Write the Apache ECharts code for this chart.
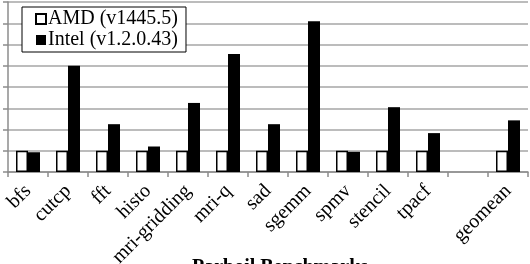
<!DOCTYPE html>
<html>
<head>
<meta charset="utf-8">
<script src="https://cdn.jsdelivr.net/npm/echarts@6/dist/echarts.min.js"></script>
<style>
  html, body { margin: 0; padding: 0; background: #fff; }
  #main { width: 530px; height: 264px; }
</style>
</head>
<body>
<div id="main"></div>
<script>
// benchmarks (blank slot before geomean, like the original)
var benchmarks = ['bfs', 'cutcp', 'fft', 'histo', 'mri-gridding', 'mri-q', 'sad', 'sgemm', 'spmv', 'stencil', 'tpacf', '', 'geomean'];
var amdValues = [1, 1, 1, 1, 1, 1, 1, 1, 1, 1, 1, null, 1];
var intelValues = [0.93, 5.0, 2.25, 1.2, 3.25, 5.55, 2.25, 7.1, 0.95, 3.05, 1.83, null, 2.43];
var yTicks = [0, 1, 2, 3, 4, 5, 6, 7, 8];

var chart = echarts.init(document.getElementById('main'), null, { renderer: 'canvas' });

var serif = '"Liberation Serif", "DejaVu Serif", serif';

var option = {
  animation: false,
  textStyle: { fontFamily: serif },
  grid: {
    left: 8,
    right: 2,
    top: 2,
    bottom: 92,
    containLabel: false,
    outerBoundsMode: 'none'
  },
  legend: {
    orient: 'vertical',
    left: 22,
    top: 7,
    padding: [2, 8, 2, 13],
    backgroundColor: '#fff',
    borderColor: '#000',
    borderWidth: 1,
    itemWidth: 10,
    itemHeight: 10,
    itemGap: 1,
    icon: 'rect',
    textStyle: { fontFamily: serif, fontSize: 20, lineHeight: 20, color: '#000', padding: [0, 0, 0, -3] },
    data: ['AMD (v1445.5)', 'Intel (v1.2.0.43)']
  },
  xAxis: {
    type: 'category',
    data: benchmarks,
    name: 'Parboil Benchmarks',
    nameLocation: 'middle',
    nameGap: 86,
    nameMoveOverlap: false,
    nameTextStyle: { fontFamily: serif, fontSize: 20, fontWeight: 'bold', color: '#000', padding: [0, 0, 0, 24] },
    axisLine: { lineStyle: { color: '#8c8c8c', width: 1.5 } },
    axisTick: { show: true, length: 5, lineStyle: { color: '#8c8c8c', width: 1.5 } },
    axisLabel: {
      rotate: 45,
      interval: 0,
      margin: 16,
      fontFamily: serif,
      fontSize: 20,
      color: '#000'
    }
  },
  yAxis: {
    type: 'value',
    min: 0,
    max: 8,
    interval: 1,
    axisLine: { show: true, lineStyle: { color: '#8c8c8c', width: 1.5 } },
    axisTick: { show: true, length: 5, lineStyle: { color: '#8c8c8c', width: 1.5 } },
    axisLabel: { show: false },
    splitLine: { lineStyle: { color: '#a6a6a6', width: 1.5 } }
  },
  series: [{
      name: 'AMD (v1445.5)',
      type: 'bar',
      data: amdValues,
      barWidth: 12,
      barGap: '0%',
      itemStyle: { color: '#fff', borderColor: '#000', borderWidth: 1.5 }
    },
    {
      name: 'Intel (v1.2.0.43)',
      type: 'bar',
      data: intelValues,
      barWidth: 12,
      barGap: '0%',
      itemStyle: { color: '#000' }
    }
  ]
};

chart.setOption(option);
</script>
</body>
</html>
